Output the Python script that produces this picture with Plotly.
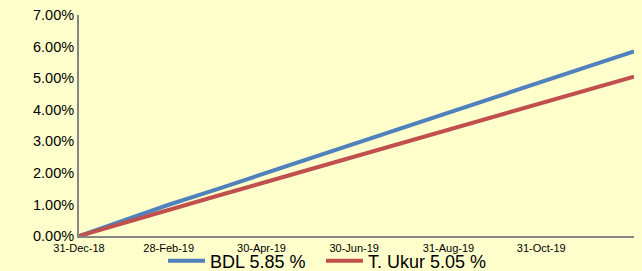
import plotly.graph_objects as go

dates = ["2018-12-31", "2019-01-31", "2019-02-28", "2019-03-31", "2019-04-30",
         "2019-05-31", "2019-06-30", "2019-07-31", "2019-08-31", "2019-09-30",
         "2019-10-31", "2019-11-30", "2019-12-31"]
bdl = [0.00, 0.52, 0.99, 1.47, 1.95, 2.45, 2.93, 3.43, 3.92, 4.39, 4.88, 5.36, 5.85]
ukur = [0.00, 0.44, 0.83, 1.26, 1.67, 2.10, 2.51, 2.94, 3.37, 3.79, 4.22, 4.63, 5.05]

tick_dates = ["2018-12-31", "2019-02-28", "2019-04-30", "2019-06-30", "2019-08-31", "2019-10-31"]
tick_labels = ["31-Dec-18", "28-Feb-19", "30-Apr-19", "30-Jun-19", "31-Aug-19", "31-Oct-19"]

font = "Liberation Sans, Arial, sans-serif"
bg = "#FFFFCC"

fig = go.Figure()
fig.add_trace(go.Scatter(x=dates, y=[v / 100 for v in bdl], mode="lines",
                         name="BDL 5.85 %", legend="legend",
                         line=dict(color="#4F81BD", width=4)))
fig.add_trace(go.Scatter(x=dates, y=[v / 100 for v in ukur], mode="lines",
                         name="T. Ukur 5.05 %", legend="legend2",
                         line=dict(color="#C0504D", width=4)))

legend_common = dict(orientation="h", xanchor="left", y=-0.113, yanchor="middle",
                     font=dict(size=18, family=font), bgcolor="rgba(0,0,0,0)",
                     itemwidth=37)

fig.update_layout(
    width=642, height=271,
    margin=dict(l=79, r=8, t=15, b=35, autoexpand=False),
    paper_bgcolor=bg, plot_bgcolor=bg,
    font=dict(family=font, color="#000000"),
    showlegend=True,
    legend=dict(x=0.1514, **legend_common),
    legend2=dict(x=0.436, **legend_common),
    xaxis=dict(type="date", range=["2018-12-31", "2019-12-31"], automargin=False,
               tickvals=tick_dates, ticktext=tick_labels, ticklabelstandoff=1,
               tickfont=dict(size=11, family=font), showgrid=False, zeroline=False,
               showline=True, linecolor="#868686", linewidth=2, ticks="", ticklen=0),
    yaxis=dict(range=[0, 0.07], dtick=0.01, tick0=0, tickformat=".2%", automargin=False,
               tickfont=dict(size=14.5, family=font), showgrid=False, zeroline=False,
               showline=True, linecolor="#868686", linewidth=2, ticks="", ticklen=0),
)

fig.write_html(
    "out.html",
    config={"displayModeBar": False},
    post_script="document.body.style.margin='0';document.body.style.overflow='hidden';"
                "document.body.style.background='#FFFFCC';",
)
